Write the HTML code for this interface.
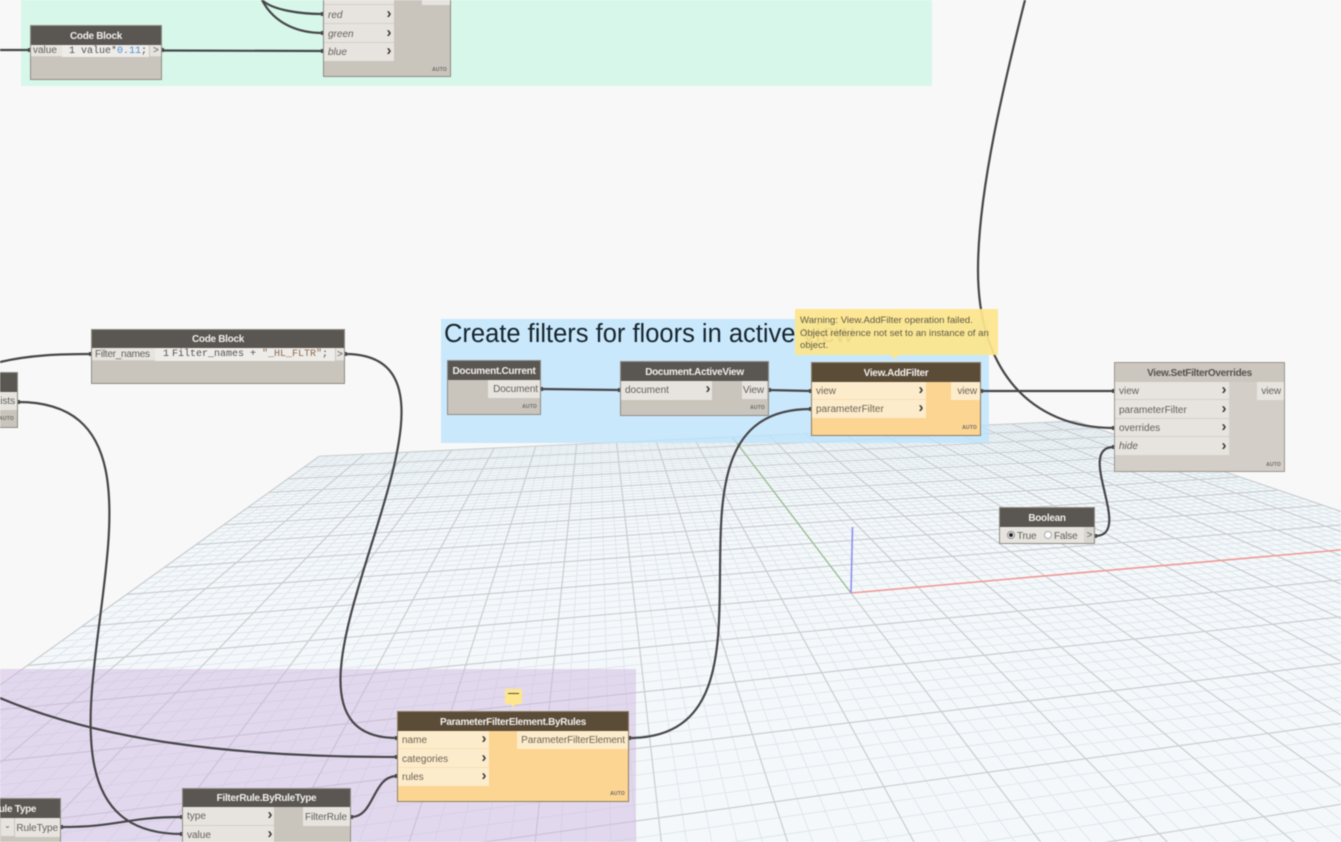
<!DOCTYPE html>
<html><head><meta charset="utf-8"><style>
html,body{margin:0;padding:0;background:#f8f8f8;overflow:hidden;width:1341px;height:842px}
#c{position:relative;width:1341px;height:842px;overflow:hidden;background:#f8f8f8;font-family:"Liberation Sans",sans-serif;font-size:10px;color:#63605b;filter:blur(.4px)}
#c div{position:absolute;box-sizing:border-box;white-space:nowrap}
svg{position:absolute;left:0;top:0}
.n{background:#c9c5bd;border:1px solid #8f8c85;overflow:hidden}
.h{left:0;right:0;top:0;background:#5a5651;color:#f1efec;font-weight:bold;text-align:center;font-size:10px;letter-spacing:-.3px;padding-top:1px}
.r{background:#e7e4df;padding-left:4px;padding-top:1px;font-size:10px;border-bottom:1px solid #d2cec8}
.ar{font-size:15px;font-weight:bold;color:#3d3b38;text-align:center;width:8px;padding-top:0}
.a{font-size:5px;color:#6e6b66;font-weight:bold;letter-spacing:.2px}
.o{background:#e7e4df;text-align:right;padding-right:3px;padding-top:1px;letter-spacing:-.08px}
.y.n{background:#fcd592;border-color:#8e7f62}
.y .h{background:#5b4c38}
.y .r,.y .o{background:#fdeccb;border-bottom-color:#f6dfb4;color:#6b6355}
.m{font-family:"Liberation Mono",monospace}
</style></head><body><div id="c">
<svg id="grid" width="1341" height="842" xmlns="http://www.w3.org/2000/svg"></svg>

<div style="left:21px;top:0;width:911px;height:86px;background:#d6f7ea"></div>
<div style="left:441px;top:319px;width:548px;height:124px;background:rgba(190,228,252,.8)"></div>
<div style="left:0;top:669px;width:636px;height:173px;background:rgba(207,183,223,.5)"></div>
<div style="left:444px;top:319px;font-size:25.5px;line-height:30px;color:#17242c">Create filters for floors in active view</div>

<svg width="1341" height="842" xmlns="http://www.w3.org/2000/svg" fill="none" stroke="#47474a" stroke-width="2.2">
<path d="M0 50H30"/>
<path d="M162 50.5L323 51"/>
<path d="M262 0C272 10 300 14 323 14"/>
<path d="M262 0C275 25 300 33 323 33"/>
<path d="M0 362C30 355 60 354 91 354"/>
<path d="M345 354C517 354 225 738 397 738"/>
<path d="M629 738C809 738 631 409 811 409"/>
<path d="M541 389L620 390"/>
<path d="M767 390L811 391"/>
<path d="M981 391H1114"/>
<path d="M1025 0C1005 80 978 190 978 270C978 370 1030 428 1114 428"/>
<path d="M1095 536C1135 536 1074 447 1114 447"/>
<path d="M18 402C238 402 -38 834 182 834"/>
<path d="M0 698C100 740 230 757 397 757"/>
<path d="M61 827C120 827 125 817 182 817"/>
<path d="M351 817C375 817 372 776 397 776"/>
</svg>

<!-- Code Block top -->
<div class="n" style="left:30px;top:25px;width:132px;height:55px"><div class="h" style="height:19px;line-height:19px">Code Block</div>
<div class="r" style="left:0;top:19px;width:31px;height:12px;line-height:10px;padding-left:2px">value</div>
<div class="m" style="left:31px;top:19px;width:87px;height:12px;line-height:13px;background:#eeece8;font-size:10px;color:#55524e;padding-left:7px">1 value*<span style="color:#4a90d9">0.11</span>;</div>
<div class="r" style="left:119px;top:19px;width:12px;height:12px;line-height:10px;padding-left:3px">&gt;</div></div>

<!-- Color.ByARGB partial -->
<div class="n" style="left:323px;top:-20px;width:128px;height:97px">
<div class="r" style="left:0;top:0;width:70px;height:24px"></div>
<div class="r" style="left:0;top:24px;width:70px;height:19px;line-height:19px;font-style:italic">red</div>
<div class="r" style="left:0;top:43px;width:70px;height:19px;line-height:19px;font-style:italic">green</div>
<div class="r" style="left:0;top:62px;width:70px;height:18px;line-height:18px;font-style:italic;border-bottom:0">blue</div>
<div class="ar" style="left:61px;top:24px;line-height:17px">›</div><div class="ar" style="left:61px;top:43px;line-height:17px">›</div><div class="ar" style="left:61px;top:62px;line-height:16px">›</div>
<div class="o" style="left:98px;top:0;width:29px;height:24px"></div>
<div class="a" style="right:3px;bottom:3px">AUTO</div></div>

<!-- Code Block 2 -->
<div class="n" style="left:91px;top:329px;width:254px;height:55px"><div class="h" style="height:18px;line-height:18px">Code Block</div>
<div class="r" style="left:0;top:18px;width:63px;height:13px;line-height:12px;letter-spacing:-.25px;padding-left:3px">Filter_names</div>
<div class="m" style="left:63px;top:18px;width:180px;height:13px;line-height:14px;background:#eeece8;font-size:10px;color:#55524e;padding-left:8px">1<span style="margin-left:3px">Filter_names + <span style="color:#8a6a4e">"_HL_FLTR"</span>;</span></div>
<div class="r" style="left:244px;top:18px;width:9px;height:13px;line-height:11px;padding-left:1px">&gt;</div></div>

<!-- left partial -->
<div class="n" style="left:-40px;top:372px;width:58px;height:56px"><div class="h" style="height:19px"></div>
<div class="o" style="left:0;top:19px;width:57px;height:18px;line-height:18px">Lists</div>
<div class="a" style="right:3px;bottom:5px">AUTO</div></div>

<!-- Document.Current -->
<div class="n" style="left:447px;top:360px;width:94px;height:55px"><div class="h" style="height:19px;line-height:19px">Document.Current</div>
<div class="o" style="left:40px;top:19px;width:53px;height:18px;line-height:17px">Document</div>
<div class="a" style="right:3px;bottom:4px">AUTO</div></div>

<!-- Document.ActiveView -->
<div class="n" style="left:620px;top:361px;width:149px;height:55px"><div class="h" style="height:19px;line-height:19px">Document.ActiveView</div>
<div class="r" style="left:0;top:19px;width:91px;height:19px;line-height:18px;border-bottom:0">document</div>
<div class="ar" style="left:83px;top:19px;line-height:16px">›</div>
<div class="o" style="left:121px;top:19px;width:25px;height:18px;line-height:18px">View</div>
<div class="a" style="right:3px;bottom:4px">AUTO</div></div>

<!-- View.AddFilter -->
<div class="n y" style="left:811px;top:362px;width:170px;height:74px"><div class="h" style="height:19px;line-height:19px">View.AddFilter</div>
<div class="r" style="left:0;top:19px;width:114px;height:18px;line-height:18px">view</div>
<div class="r" style="left:0;top:37px;width:114px;height:18px;line-height:18px;border-bottom:0">parameterFilter</div>
<div class="ar" style="left:105px;top:19px;line-height:16px">›</div><div class="ar" style="left:105px;top:37px;line-height:16px">›</div>
<div class="o" style="left:139px;top:19px;width:29px;height:18px;line-height:18px">view</div>
<div class="a" style="right:3px;bottom:4px">AUTO</div></div>

<!-- View.SetFilterOverrides -->
<div class="n" style="left:1114px;top:362px;width:171px;height:110px;background:#d3cfc8;border-color:#9a9790"><div class="h" style="height:19px;line-height:19px;background:#cbc7bf;color:#55524e">View.SetFilterOverrides</div>
<div class="r" style="left:0;top:19px;width:114px;height:18px;line-height:18px">view</div>
<div class="r" style="left:0;top:37px;width:114px;height:19px;line-height:19px">parameterFilter</div>
<div class="r" style="left:0;top:56px;width:114px;height:18px;line-height:18px">overrides</div>
<div class="r" style="left:0;top:74px;width:114px;height:18px;line-height:18px;border-bottom:0;font-style:italic">hide</div>
<div class="ar" style="left:105px;top:19px;line-height:16px">›</div><div class="ar" style="left:105px;top:37px;line-height:17px">›</div><div class="ar" style="left:105px;top:56px;line-height:16px">›</div><div class="ar" style="left:105px;top:74px;line-height:17px">›</div>
<div class="o" style="left:142px;top:19px;width:27px;height:18px;line-height:18px">view</div>
<div class="a" style="right:3px;bottom:3px">AUTO</div></div>

<!-- Boolean -->
<div class="n" style="left:999px;top:507px;width:96px;height:37px"><div class="h" style="height:19px;line-height:19px">Boolean</div>
<div style="left:0;top:19px;width:84px;height:16px;background:#e7e4df"></div>
<div style="left:7px;top:23px;width:8px;height:8px;border-radius:50%;background:#fff;border:1px solid #888"></div>
<div style="left:9px;top:25px;width:4px;height:4px;border-radius:50%;background:#222"></div>
<div style="left:17px;top:20px;line-height:17px;font-size:10px;letter-spacing:-.2px">True</div>
<div style="left:44px;top:23px;width:8px;height:8px;border-radius:50%;background:#fff;border:1px solid #aaa"></div>
<div style="left:54px;top:20px;line-height:17px;font-size:10px;letter-spacing:-.2px">False</div>
<div style="left:84px;top:19px;width:11px;height:16px;line-height:17px;background:#d8d5cf;text-align:center">&gt;</div></div>

<!-- ParameterFilterElement.ByRules -->
<div class="n y" style="left:397px;top:711px;width:232px;height:91px"><div class="h" style="height:19px;line-height:19px">ParameterFilterElement.ByRules</div>
<div class="r" style="left:0;top:19px;width:91px;height:18px;line-height:18px">name</div>
<div class="r" style="left:0;top:37px;width:91px;height:19px;line-height:19px">categories</div>
<div class="r" style="left:0;top:56px;width:91px;height:18px;line-height:18px;border-bottom:0">rules</div>
<div class="ar" style="left:82px;top:19px;line-height:16px">›</div><div class="ar" style="left:82px;top:37px;line-height:17px">›</div><div class="ar" style="left:82px;top:56px;line-height:16px">›</div>
<div class="o" style="left:119px;top:19px;width:111px;height:18px;line-height:18px">ParameterFilterElement</div>
<div class="a" style="right:3px;bottom:4px">AUTO</div></div>

<!-- FilterRule.ByRuleType -->
<div class="n" style="left:182px;top:788px;width:169px;height:54px;border-bottom:0"><div class="h" style="height:18px;line-height:18px">FilterRule.ByRuleType</div>
<div class="r" style="left:0;top:18px;width:91px;height:19px;line-height:18px">type</div>
<div class="r" style="left:0;top:37px;width:91px;height:17px;line-height:18px;border-bottom:0">value</div>
<div class="ar" style="left:83px;top:18px;line-height:16px">›</div><div class="ar" style="left:83px;top:37px;line-height:16px">›</div>
<div class="o" style="left:120px;top:18px;width:47px;height:19px;line-height:19px">FilterRule</div></div>

<!-- Rule Type -->
<div class="n" style="left:-40px;top:798px;width:101px;height:44px;border-bottom:0"><div class="h" style="height:19px;line-height:19px;padding-left:7px">Rule Type</div>
<div style="left:40px;top:19px;width:13px;height:18px;background:#e7e4df;line-height:16px;font-size:8px;text-align:center">⌄</div>
<div class="o" style="left:54px;top:19px;width:46px;height:19px;line-height:19px">RuleType</div></div>

<svg width="1341" height="842" xmlns="http://www.w3.org/2000/svg" fill="#47474a">
<rect x="28" y="48" width="2" height="4"/><rect x="162" y="48" width="2" height="4"/><rect x="321" y="12" width="2" height="4"/><rect x="321" y="31" width="2" height="4"/><rect x="321" y="49" width="2" height="4"/>
<rect x="89" y="352" width="2" height="4"/><rect x="345" y="352" width="2" height="4"/><rect x="18" y="400" width="2" height="4"/>
<rect x="541" y="387" width="2" height="4"/><rect x="618" y="388" width="2" height="4"/><rect x="769" y="388" width="2" height="4"/><rect x="809" y="389" width="2" height="4"/><rect x="809" y="407" width="2" height="4"/><rect x="981" y="389" width="2" height="4"/>
<rect x="1112" y="389" width="2" height="4"/><rect x="1112" y="426" width="2" height="4"/><rect x="1112" y="445" width="2" height="4"/><rect x="1095" y="534" width="2" height="4"/>
<rect x="395" y="736" width="2" height="4"/><rect x="395" y="755" width="2" height="4"/><rect x="395" y="774" width="2" height="4"/><rect x="629" y="736" width="2" height="4"/>
<rect x="180" y="815" width="2" height="4"/><rect x="180" y="832" width="2" height="4"/><rect x="351" y="815" width="2" height="4"/><rect x="61" y="825" width="2" height="4"/>
</svg>

<!-- Warning tooltip -->
<div style="left:795px;top:309px;width:203px;height:46px;background:rgba(253,229,140,.93);font-size:9.6px;line-height:12.5px;color:#5f5a45;padding:6px 0 0 5px;white-space:normal">Warning: View.AddFilter operation failed.<br>Object reference not set to an instance of an<br>object.</div>
<div style="left:891px;top:355px;width:0;height:0;border-left:4px solid transparent;border-right:4px solid transparent;border-top:4px solid #fde68d"></div>
<!-- small tooltip -->
<div style="left:505px;top:689px;width:17px;height:15px;background:#fde68d"></div>
<div style="left:510px;top:704px;width:0;height:0;border-left:3px solid transparent;border-right:3px solid transparent;border-top:3px solid #fde68d"></div>
<div style="left:508px;top:693px;width:11px;height:1px;background:#55513f"></div>

<script>
(function(){
var g=.1736,h=.8715;
function P(x,y){var d=1+g*x+h*y;return [(4771*g*x+596*h*y+851)/d,(248*g*x+258*h*y+593)/d];}
function S(p){return p[0].toFixed(1)+' '+p[1].toFixed(1);}
var minor='',major='',i;
function line(a,b,m){var s='M'+S(a)+'L'+S(b);if(m)major+=s;else minor+=s;}
for(i=-50;i<=50;i++){
  var x=i/50,yl=Math.max(-.8,(.06-1-g*x)/h);
  line(P(x,1),P(x,yl),i%5==0);
}
for(i=-40;i<=50;i++){
  var y=i/50,xl=Math.max(-1,(.06-1-h*y)/g);
  line(P(xl,y),P(1,y),i%5==0);
}
var a=P(-1,1),b=P(1,1),c=P(1,-.8),d=P(-1,-.8);
var O=P(0,0),R=P(1,0),G=P(0,1);
document.getElementById('grid').innerHTML=
 '<polygon points="'+a.join(',')+' '+b.join(',')+' '+c.join(',')+' '+d.join(',')+'" fill="#f5f8fa"/>'+
 '<path d="'+minor+'" stroke="#dbe6eb" stroke-width=".9" fill="none"/>'+
 '<path d="'+major+'" stroke="#c8cdd0" stroke-width="1.2" fill="none"/>'+
 '<line x1="'+O[0]+'" y1="'+O[1]+'" x2="'+R[0]+'" y2="'+R[1]+'" stroke="#ef9a98" stroke-width="1.6"/>'+
 '<line x1="'+O[0]+'" y1="'+O[1]+'" x2="'+G[0]+'" y2="'+G[1]+'" stroke="#9cbf98" stroke-width="1.4"/>'+
 '<line x1="851" y1="593" x2="852.5" y2="527" stroke="#8f8ff0" stroke-width="1.6"/>';
})();
</script>
</div></body></html>
